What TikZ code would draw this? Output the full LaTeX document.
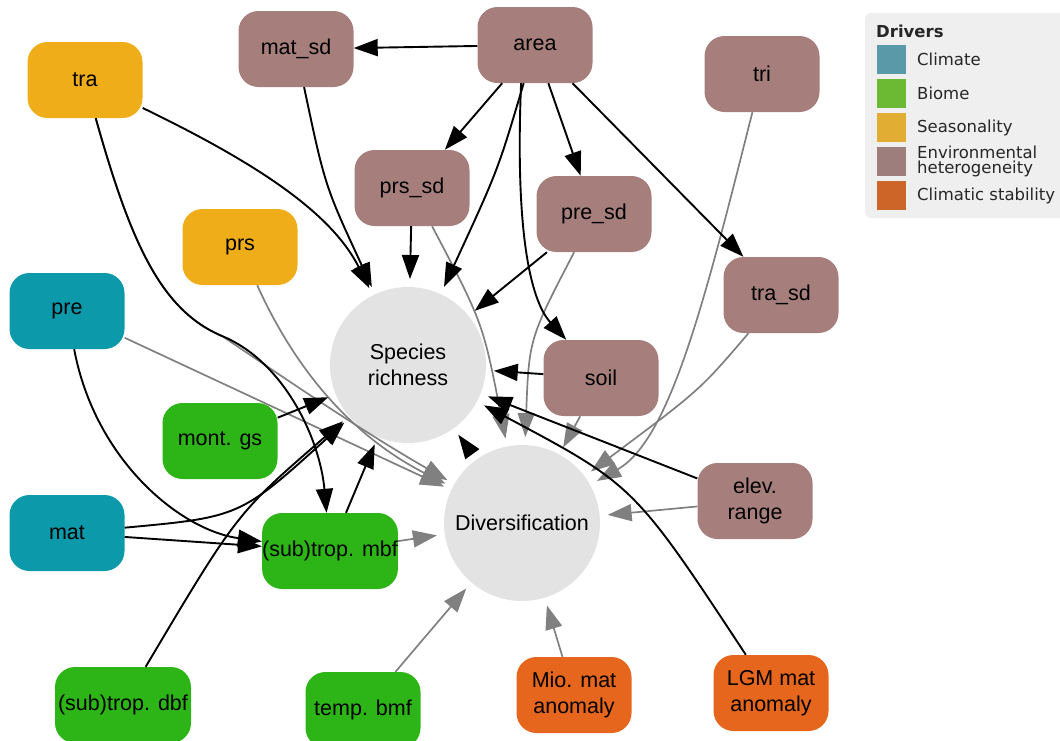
\documentclass[tikz,border=0pt]{standalone}
\usepackage{fontspec}
\setmainfont{Liberation Sans}
\newfontfamily\legfont{DejaVu Sans}
\usetikzlibrary{arrows.meta}

\definecolor{envcol}{HTML}{A67F7D}
\definecolor{seascol}{HTML}{EFAD1A}
\definecolor{climcol}{HTML}{0C9AAB}
\definecolor{biomecol}{HTML}{2DB517}
\definecolor{stabcol}{HTML}{E6661D}
\definecolor{respcol}{HTML}{E3E3E3}
\definecolor{pathgray}{HTML}{808080}
\definecolor{legbg}{HTML}{EFEFEF}
\definecolor{legclim}{HTML}{5A9AA8}
\definecolor{legbiome}{HTML}{6CB933}
\definecolor{legseas}{HTML}{E1AD33}
\definecolor{legenv}{HTML}{9E7E7C}
\definecolor{legstab}{HTML}{CD6529}

\tikzset{
  driver/.style={rounded corners=20pt, minimum width=115pt, minimum height=76pt,
    inner sep=0pt, align=center, font=\fontsize{21.5}{26}\selectfont},
  env/.style={driver, fill=envcol},
  seas/.style={driver, fill=seascol},
  clim/.style={driver, fill=climcol},
  biome/.style={driver, fill=biomecol},
  stab/.style={driver, fill=stabcol},
  resp/.style={circle, fill=respcol, minimum size=156pt, outer sep=8pt,
    inner sep=0pt, align=center, font=\fontsize{21.5}{26}\selectfont},
  onrich/.style={->, line width=1.9pt, black},
  ondiv/.style={->, line width=1.7pt, pathgray},
  swatch/.style={minimum size=29pt, inner sep=0pt},
  legtext/.style={anchor=west, inner sep=0pt, text=black!85,
    font=\legfont\fontsize{16.5}{15}\selectfont, align=left},
}

\begin{document}
\begin{tikzpicture}[>={Triangle[length=24pt,width=17pt]}, x=1pt, y=-1pt]
        \useasboundingbox (0,0) rectangle (1060,740);
        % drivers
        \node[seas] (tra) at (85,80) {tra};
        \node[env] (matsd) at (296,49) {mat\_sd};
        \node[env] (area) at (535,45) {area};
        \node[env] (tri) at (762,74) {tri};
        \node[env] (prssd) at (412,188) {prs\_sd};
        \node[env] (presd) at (594,214) {pre\_sd};
        \node[seas] (prs) at (240,247) {prs};
        \node[env] (trasd) at (781,295) {tra\_sd};
        \node[clim] (pre) at (67,311) {pre};
        \node[env] (soil) at (601,378) {soil};
        \node[biome] (montgs) at (220,441) {mont. gs};
        \node[env] (elev) at (755,501) {elev.\\range};
        \node[clim] (mat) at (67,533) {mat};
        \node[biome, minimum width=134pt] (mbf) at (330,551) {(sub)trop. mbf};
        \node[biome, minimum width=136pt] (dbf) at (123,705) {(sub)trop. dbf};
        \node[biome] (tbmf) at (363,710) {temp. bmf};
        \node[stab] (mio) at (574,695) {Mio. mat\\anomaly};
        \node[stab] (lgm) at (771,693) {LGM mat\\anomaly};
        % responses
        \node[resp] (rich) at (408,365) {Species\\richness};
        \node[resp] (divers) at (522,523) {Diversification};
        % where the two paths from tra part
        \coordinate (trabend) at (222,336);
        % paths to diversification
        \draw[ondiv] (tra) .. controls (130,240) and (160,310) .. (trabend)
                           .. controls (280,375) and (360,430) .. (divers);
        \draw[ondiv] (pre) -- (divers);
        \draw[ondiv] (prs) .. controls (300,380) and (360,440) .. (divers);
        \draw[ondiv] (prssd) .. controls (483,323) .. (divers);
        \draw[ondiv] (presd) .. controls (529,339) .. (divers);
        \draw[ondiv] (soil) -- (divers);
        \draw[ondiv] (tri) .. controls (705,300) and (670,440) .. (divers);
        \draw[ondiv] (trasd) .. controls (700,390) .. (divers);
        \draw[ondiv] (elev) -- (divers);
        \draw[ondiv] (mio) -- (divers);
        \draw[ondiv] (tbmf) -- (divers);
        \draw[ondiv] (mbf) -- (divers);
        % paths to species richness and between drivers
        \draw[onrich] (area) -- (matsd);
        \draw[onrich] (area) -- (prssd);
        \draw[onrich] (area) -- (presd);
        \draw[onrich] (area) -- (trasd);
        \draw[onrich] (area) .. controls (498,170) .. (rich);
        \draw[onrich] (area.250) .. controls (515,230) and (530,300) .. (soil);
        \draw[onrich] (matsd) .. controls (325,186) .. (rich);
        \draw[onrich] (tra) .. controls (250,160) and (330,210) .. (rich);
        \draw[onrich] (prssd) -- (rich);
        \draw[onrich] (presd) -- (rich);
        \draw[onrich] (soil) -- (rich);
        \draw[onrich] (montgs) -- (rich);
        \draw[onrich] (mat) .. controls (240,517) .. (rich);
        \draw[onrich] (dbf) .. controls (237,513) .. (rich);
        \draw[onrich] (mbf) -- (rich);
        \draw[onrich] (elev) -- (rich);
        \draw[onrich] (lgm) .. controls (634,485) .. (rich);
        \draw[onrich] (divers) -- (rich);
        \draw[onrich] (tra) .. controls (130,240) and (160,310) .. (trabend)
                            .. controls (285,362) and (320,440) .. (mbf);
        \draw[onrich] (pre) .. controls (95,460) and (180,530) .. (mbf);
        \draw[onrich] (mat) -- (mbf);
        % legend
        \fill[legbg, rounded corners=6pt] (865,13) rectangle (1075,218);
        \node[legtext, font=\legfont\bfseries\fontsize{16.5}{15}\selectfont] (legttl) at (876,31) {Drivers};
        \node[swatch, fill=legclim] (swclim) at (891.5,59.5) {};
        \node[legtext] (lgclim) at (917,59.5) {Climate};
        \node[swatch, fill=legbiome] (swbiome) at (891.5,93.5) {};
        \node[legtext] (lgbiome) at (917,93.5) {Biome};
        \node[swatch, fill=legseas] (swseas) at (891.5,127.5) {};
        \node[legtext] (lgseas) at (917,127.5) {Seasonality};
        \node[swatch, fill=legenv] (swenv) at (891.5,161.5) {};
        \node[legtext] (lgenv) at (917,161.5) {Environmental\\heterogeneity};
        \node[swatch, fill=legstab] (swstab) at (891.5,195.5) {};
        \node[legtext] (lgstab) at (917,195.5) {Climatic stability};
    \end{tikzpicture}
\end{document}
